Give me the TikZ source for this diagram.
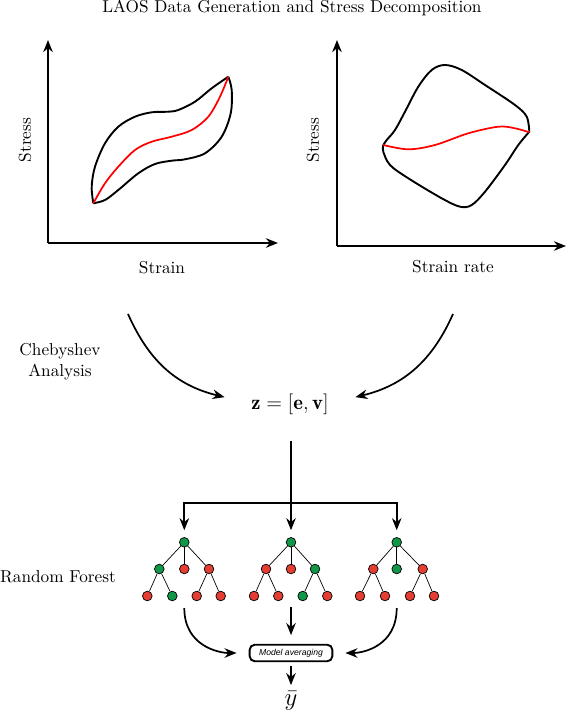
\documentclass[tikz,border=0pt]{standalone}
\usepackage{fontspec}
\newfontfamily\avgfont{Liberation Sans}
\usetikzlibrary{arrows.meta}

\definecolor{leafgreen}{RGB}{18,150,72}
\definecolor{leafred}{RGB}{228,62,50}

\begin{document}
\begin{tikzpicture}[x=0.58pt,y=-0.58pt,
					>={Stealth[length=7pt,width=5.5pt]},
					%shorten >=1pt,
					thick,
					axis/.style={->,line width=1.2pt},
					loop line/.style={line width=1.1pt},
					flow/.style={->,line width=1pt},
					leaf/.style={circle,draw,thin,inner sep=0pt,minimum size=5.6pt},
					green node/.style={leaf,fill=leafgreen},
					red node/.style={leaf,fill=leafred}]

  \useasboundingbox (0,0) rectangle (567,714);

  \node (title) at (292,8) {LAOS Data Generation and Stress Decomposition};

  % strain plot
  \coordinate (O1) at (48,243);
  \coordinate (Y1) at (48,40);
  \coordinate (X1) at (278,243);
  \draw[axis] (O1) -- (Y1);
  \draw[axis] (O1) -- (X1);
  \node[rotate=90] (stress1) at (25,140) {Stress};
  \node (strain) at (162,268) {Strain};
  \draw[loop line] plot[smooth,tension=0.55] coordinates {(93.3,203.3) (91.7,186.7) (95,166.7)
    (105,143.3) (118.3,126.7) (135,116.7) (151.7,112.3) (168.3,111.7) (178.3,110) (195,101.7)
    (211.7,88.3) (228.3,76.7)};
  \draw[loop line] plot[smooth,tension=0.55] coordinates {(228.3,76.7) (231.7,90) (230.7,113.3)
    (221.7,136.7) (205,153.3) (185,159.3) (171.7,160.7) (155,164) (138.3,173.3) (118.3,190)
    (105,200) (93.3,203.3)};
  \draw[red,line width=1pt] plot[smooth,tension=0.55] coordinates {(93.3,203.3) (105,183.3)
    (118.3,166.7) (135,150) (151.7,141.7) (171.7,136.7) (191.7,130) (208.3,116.7) (220,96.7)
    (228.3,76.7)};

  % strain rate plot
  \coordinate (O2) at (337,246);
  \coordinate (Y2) at (337,40);
  \coordinate (X2) at (566,246);
  \draw[axis] (O2) -- (Y2);
  \draw[axis] (O2) -- (X2);
  \node[rotate=90] (stress2) at (313,140) {Stress};
  \node (rate) at (453,267) {Strain rate};
  \draw[loop line] plot[smooth,tension=0.55] coordinates {(383.3,145) (386.7,140) (395,130)
    (405,111.7) (418.3,86.7) (431.7,70) (445,65) (461.7,70) (485,85) (515,105) (526.7,116.7)
    (529.3,131.7)};
  \draw[loop line] plot[smooth,tension=0.55] coordinates {(529.3,131.7) (518.3,145) (505,165)
    (485,191.7) (471.7,205) (460,206.7) (441.7,198.3) (408.3,178.3) (390,165) (383.3,151.7)
    (383.3,145)};
  \draw[red,line width=1pt] plot[smooth,tension=0.55] coordinates {(383.3,145) (408.3,149.3)
    (435,145) (468.3,133.3) (498.3,126.7) (515,128.3) (529.3,132.3)};

  % features
  \node[align=center] (cheb) at (60,362) {Chebyshev\\ Analysis};
  \node[minimum width=75pt,minimum height=42pt,font=\large] (z) at (290,404) {$\mathbf{z}=[\mathbf{e},\mathbf{v}]$};
  \coordinate (s1) at (128,314);
  \coordinate (s2) at (453,314);
  \draw[flow] (s1) .. controls +(20,45) and +(-50,-12) .. (z.174);
  \draw[flow] (s2) .. controls +(-20,45) and +(50,-12) .. (z.6);

  % forest
  \node (forest) at (58,577) {Random Forest};
  \node[green node] (A0) at (184.3,542.3) {};
  \node[green node] (A1) at (159.3,569) {};
  \node[red node] (A2) at (184.3,569) {};
  \node[red node] (A3) at (209,569) {};
  \node[red node] (A11) at (147.3,596) {};
  \node[green node] (A12) at (172.3,596) {};
  \node[red node] (A31) at (196.7,596) {};
  \node[red node] (A32) at (220.7,596) {};

  \node[green node] (B0) at (291,542.3) {};
  \node[red node] (B1) at (266,569) {};
  \node[red node] (B2) at (291,569) {};
  \node[green node] (B3) at (315,569) {};
  \node[red node] (B11) at (254,596) {};
  \node[red node] (B12) at (278.3,596) {};
  \node[green node] (B31) at (302.7,596) {};
  \node[red node] (B32) at (327.3,596) {};

  \node[green node] (C0) at (396.7,542.3) {};
  \node[red node] (C1) at (373.3,569) {};
  \node[green node] (C2) at (396.7,569) {};
  \node[red node] (C3) at (422.7,569) {};
  \node[red node] (C11) at (360,596) {};
  \node[red node] (C12) at (385,596) {};
  \node[red node] (C31) at (410,596) {};
  \node[red node] (C32) at (434,596) {};

  \path[thin]
    (A0) edge (A1) edge (A2) edge (A3)
    (A1) edge (A11) edge (A12)
    (A3) edge (A31) edge (A32)
    (B0) edge (B1) edge (B2) edge (B3)
    (B1) edge (B11) edge (B12)
    (B3) edge (B31) edge (B32)
    (C0) edge (C1) edge (C2) edge (C3)
    (C1) edge (C11) edge (C12)
    (C3) edge (C31) edge (C32);

  \coordinate (split) at (291,503);
  \draw[flow,shorten >=4pt] (z.south -| B0) -- (B0);
  \draw[flow,shorten >=4pt] (split) -| (A0);
  \draw[flow,shorten >=4pt] (split) -| (C0);

  % averaging
  \node[draw,rounded corners=3pt,line width=1.1pt,minimum width=48pt,minimum height=9.6pt,
        inner sep=0pt,font=\avgfont\itshape\fontsize{5}{6}\selectfont] (avg) at (291,653) {Model averaging};
  \node[font=\Large] (ybar) at (291,701) {$\bar{y}$};
  \coordinate (e1) at (184.3,608);
  \coordinate (e2) at (291,607);
  \coordinate (e3) at (396.7,608);
  \draw[flow,shorten >=7pt] (e1) .. controls +(0,38) and +(-30,0) .. (avg.west);
  \draw[flow,shorten >=5pt] (e2) -- (avg.north);
  \draw[flow,shorten >=7pt] (e3) .. controls +(0,38) and +(30,0) .. (avg.east);
  \draw[flow,shorten <=2pt] (avg.south) -- (ybar.north);
\end{tikzpicture}
\end{document}
